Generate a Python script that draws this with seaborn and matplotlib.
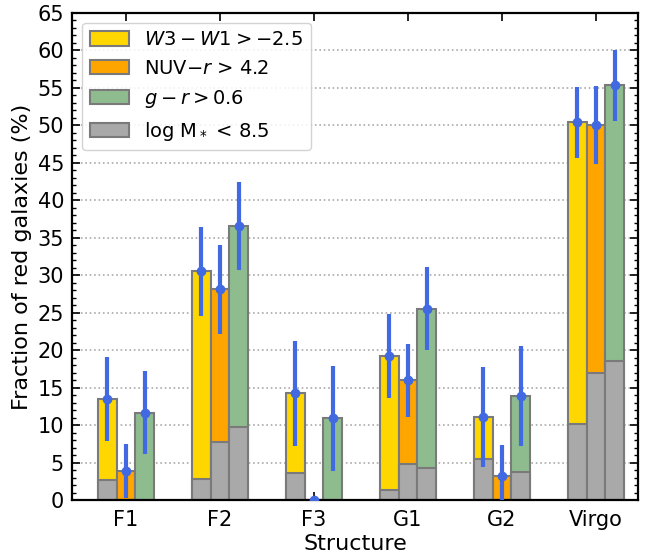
import numpy as np
import pandas as pd
import matplotlib
matplotlib.use("Agg")
import matplotlib.pyplot as plt
import seaborn as sns
from matplotlib.patches import Patch
from matplotlib.ticker import MultipleLocator

structures = ["F1", "F2", "F3", "G1", "G2", "Virgo"]
criteria = ["W3", "NUV", "gr"]

# fraction of red galaxies (%) per criterion
frac_w3 = [13.5, 30.5, 14.3, 19.2, 11.1, 50.4]
frac_nuv = [3.9, 28.1, 0.0, 16.0, 3.2, 50.0]
frac_gr = [11.6, 36.6, 10.9, 25.5, 13.9, 55.4]

# low-mass (log M* < 8.5) contribution per criterion
low_w3 = [2.7, 2.8, 3.6, 1.3, 5.5, 10.1]
low_nuv = [0.0, 7.8, 0.0, 4.8, 0.0, 17.0]
low_gr = [0.0, 9.8, 0.0, 4.3, 3.8, 18.5]

# error bar extents (lower, upper)
lo_w3 = [7.9, 24.6, 7.2, 13.6, 4.4, 45.7]
hi_w3 = [19.1, 36.4, 21.2, 24.8, 17.8, 55.1]
lo_nuv = [0.3, 22.2, 0.0, 11.1, 0.0, 44.8]
hi_nuv = [7.5, 34.0, 0.0, 20.8, 7.3, 55.2]
lo_gr = [6.1, 30.7, 3.9, 20.0, 7.2, 50.6]
hi_gr = [17.2, 42.4, 17.9, 31.1, 20.5, 60.1]

labels = [r"$W3-W1>-2.5$", r"NUV$-r$ > 4.2", r"$g-r>0.6$", r"log M$_*$ < 8.5"]
colors = ["#FFD700", "#FFA500", "#8FBC8F"]
gray = "#A9A9A9"
edge = "#7a7a7a"

sns.set_style("ticks", rc={"text.color": "black", "axes.labelcolor": "black",
                           "xtick.color": "black", "ytick.color": "black",
                           "axes.edgecolor": "black"})
plt.rcParams["font.family"] = ["DejaVu Sans"]

df = pd.DataFrame({
    "structure": structures * 3,
    "criterion": [c for c in criteria for _ in structures],
    "frac": frac_w3 + frac_nuv + frac_gr,
    "low": low_w3 + low_nuv + low_gr,
})

fig, ax = plt.subplots(figsize=(6.46, 5.6), dpi=100)
ax.set_axisbelow(True)
ax.yaxis.grid(True, which="major", linestyle=":", color="#aaaaaa", linewidth=1.2)

sns.barplot(data=df, x="structure", y="frac", hue="criterion", hue_order=criteria,
            palette=colors, saturation=1, width=0.6, edgecolor=edge, linewidth=1.5,
            errorbar=None, legend=False, ax=ax, zorder=1)
sns.barplot(data=df, x="structure", y="low", hue="criterion", hue_order=criteria,
            palette=[gray] * 3, saturation=1, width=0.6, edgecolor=edge, linewidth=1.5,
            errorbar=None, legend=False, ax=ax, zorder=2)

x = np.arange(len(structures))
offsets = [-0.2, 0.0, 0.2]
for off, f, lo, hi in zip(offsets, [frac_w3, frac_nuv, frac_gr],
                          [lo_w3, lo_nuv, lo_gr], [hi_w3, hi_nuv, hi_gr]):
    f = np.array(f); lo = np.array(lo); hi = np.array(hi)
    ax.errorbar(x + off, f, yerr=[f - lo, hi - f], fmt="o", color="#4169E1",
                ms=6, elinewidth=3, capsize=0, zorder=5)

ax.set_ylim(0, 65)
ax.set_xlim(-0.57, 5.45)
ax.yaxis.set_major_locator(MultipleLocator(5))
ax.yaxis.set_minor_locator(MultipleLocator(1))
ax.tick_params(axis="both", which="both", direction="in", top=True, right=True,
               labelsize=15)
ax.tick_params(which="major", length=6, width=1.2)
ax.tick_params(which="minor", length=3, width=1)
ax.tick_params(axis="x", which="major", pad=7)
ax.tick_params(axis="y", which="major", pad=6)
ax.tick_params(axis="x", which="minor", top=False, bottom=False)
for s in ax.spines.values():
    s.set_linewidth(1.6)
    s.set_visible(True)

ax.set_xlabel("Structure", fontsize=16, labelpad=3)
ax.set_ylabel("Fraction of red galaxies (%)", fontsize=16, labelpad=4)

handles = [Patch(facecolor=c, edgecolor=edge, linewidth=1.5) for c in colors + [gray]]
ax.legend(handles, labels, loc="upper left", fontsize=14, frameon=True,
          framealpha=0.85, edgecolor="#cccccc", handlelength=2.0, handleheight=0.75,
          labelspacing=0.5, borderaxespad=0.5)

fig.subplots_adjust(left=0.112, right=0.988, top=0.977, bottom=0.107)
fig.savefig("out.png", dpi=100)
